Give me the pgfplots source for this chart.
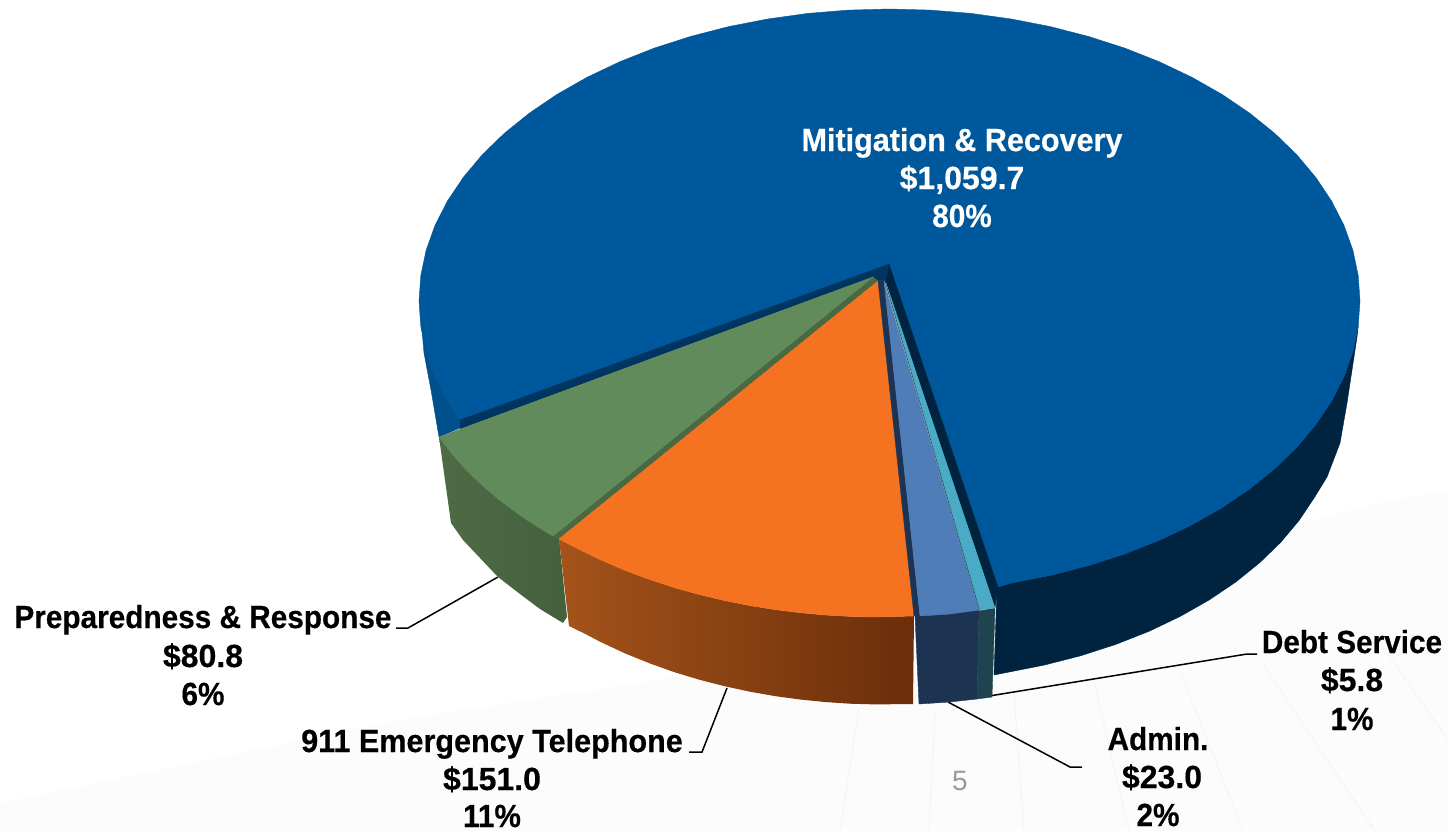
\documentclass[border=0pt]{standalone}
\usepackage{fontspec}
\setmainfont{Liberation Sans}
\newfontfamily\lblfont[FakeStretch=.93,BoldFeatures={FakeBold=0.4}]{Liberation Sans}
\newfontfamily\lblwide[FakeStretch=.955,BoldFeatures={FakeBold=0.4}]{Liberation Sans}
\newfontfamily\lblnum[FakeStretch=1.0,BoldFeatures={FakeBold=0.4}]{Liberation Sans}
\usepackage{pgfplots}
\pgfplotsset{compat=1.18}
\definecolor{mainblue}{HTML}{00589C}
\definecolor{mainside}{HTML}{00233F}
\definecolor{mainleft}{HTML}{00508E}
\definecolor{cutblue}{HTML}{003461}
\definecolor{greentop}{HTML}{628B5C}
\definecolor{greenband}{HTML}{4A6842}
\definecolor{orangetop}{HTML}{F57220}
\definecolor{admintop}{HTML}{4F7DB8}
\definecolor{adminside}{HTML}{1D3352}
\definecolor{tealtop}{HTML}{49ABC6}
\definecolor{tealside}{HTML}{1F444F}
\tikzset{
  pie/.style={draw=#1,fill=#1,line width=.4pt},
  lead/.style={black,line width=1.5pt},
  ray/.style={color=black!4,line width=1pt},
  lbl/.style={anchor=base,inner sep=0pt,font=\fontsize{32}{36}\selectfont\lblfont\bfseries},
  lblw/.style={lbl,font=\fontsize{32}{36}\selectfont\lblwide\bfseries},
  num/.style={lbl,font=\fontsize{32}{36}\selectfont\lblnum\bfseries}
}
\begin{document}
\begin{tikzpicture}
\begin{axis}[
    hide axis,
    scale only axis,
    width=1448pt, height=831pt,
    xmin=0, xmax=1448,
    ymin=0, ymax=831,
    y dir=reverse,
]
% faint background of the slide
\addplot[draw=none,fill=black!1] coordinates {(0,803) (400,720) (720,670) (1313,520) (1380,503) (1448,490) (1448,831) (0,831)} -- cycle;
\addplot[ray] coordinates {(859,707) (840,831)};
\addplot[ray] coordinates {(935,713) (929,831)};
\addplot[ray] coordinates {(1014,693) (1024,831)};
\addplot[ray] coordinates {(1092,673) (1129,831)};
\addplot[ray] coordinates {(1181,673) (1243,831)};
\addplot[ray] coordinates {(1260,660) (1375,831)};
\addplot[ray] coordinates {(1383,647) (1448,740)};

% leader lines
\addplot[lead] coordinates {(498,577) (408,628) (396,628)};
\addplot[lead] coordinates {(727,688) (702,752) (689,752)};
\addplot[lead] coordinates {(948,702) (1070,767) (1082,767)};
\addplot[lead] coordinates {(983,697) (1247,654) (1257,654)};

% mitigation & recovery
\addplot[pie=mainside] coordinates {
  (997,587) (1011.3,583) (1050.4,575.4) (1088.3,565.6) (1124.8,553.9) (1159.4,540.2) (1192,524.7)
  (1222.2,507.5) (1249.9,488.7) (1274.9,468.5) (1297,447) (1315.9,424.4) (1331.6,400.9) (1344,376.6)
  (1352.9,351.7) (1358.2,326.5) (1357,337) (1352,370) (1347,403) (1340,443) (1327,477)
  (1314.2,497.8) (1299.2,520.3) (1281,542) (1259.8,562.6) (1235.8,582) (1209.1,600) (1180,616.5)
  (1148.8,631.4) (1115.5,644.5) (1080.5,655.8) (1044.1,665.1) (994,675)} -- cycle;
\addplot[pie=mainleft] coordinates {(420,307) (424,353) (431,390) (439,437) (460,428) (470,420) (470,393) (450,300)} -- cycle;
\addplot[pie=mainblue] coordinates {
  (998,587) (1011.3,583) (1050.4,575.4) (1088.3,565.6) (1124.8,553.9) (1159.4,540.2) (1192,524.7)
  (1222.2,507.5) (1249.9,488.7) (1274.9,468.5) (1297,447) (1315.9,424.4) (1331.6,400.9) (1344,376.6)
  (1352.9,351.7) (1358.2,326.5) (1360,301) (1358.2,275.5) (1352.9,250.3) (1344,225.4) (1331.6,201.1)
  (1315.9,177.6) (1297,155) (1274.9,133.5) (1249.9,113.3) (1222.2,94.5) (1192,77.3) (1159.4,61.8)
  (1124.8,48.1) (1088.3,36.4) (1050.4,26.6) (1011.3,19) (971.2,13.4) (930.5,10.1) (889.5,9)
  (848.5,10.1) (807.8,13.4) (767.7,19) (728.6,26.6) (690.7,36.4) (654.2,48.1) (619.6,61.8) (587,77.3)
  (556.8,94.5) (529.1,113.3) (504.1,133.5) (482,155) (463.1,177.6) (447.4,201.1) (435,225.4)
  (426.1,250.3) (420.8,275.5) (419,301) (420.8,326.5) (426.1,351.7) (435,376.6) (447.4,400.9)
  (460,420) (889,264)} -- cycle;
\addplot[pie=cutblue] coordinates {(889,264) (460,420) (460,429) (873,277) (878,281) (884,280) (886,283)} -- cycle;
\addplot[pie=mainside] coordinates {(889,264) (998,587) (995,608) (886,283)} -- cycle;

% preparedness & response
\addplot[draw=none,left color=greenband!98!white,right color=greenband!92!black] coordinates {
  (439,437) (451,523) (463,540) (480,558) (498,577) (520,594) (540,609) (563,623) (567,617) (559,538)} -- cycle;
\addplot[pie=greenband] coordinates {(873,277) (553,536) (559,539) (878,281)} -- cycle;
\addplot[pie=greentop] coordinates {
  (873,277) (439,437) (450,451.5) (465,468.7) (482,485.3) (500,500.5) (520,515.4) (540,528.4) (553,536)} -- cycle;

% 911 emergency telephone
\addplot[draw=none,left color={rgb,255:red,165;green,83;blue,26},right color={rgb,255:red,106;green,46;blue,10}] coordinates {
  (559,539) (580,549.8) (600,559.5) (625,570.3) (650,579.6) (675,587.8) (700,594.7) (725,600.6)
  (750,605.6) (775,609.6) (800,612.7) (825,615) (850,616.4) (875,617) (914,616) (913,704)
  (875,704.4) (850,703.7) (825,702) (800,699.5) (775,696.1) (750,691.7) (725,686.3) (700,679.9)
  (675,672.4) (650,663.5) (625,653.4) (600,641.7) (585,633.8) (569,626)} -- cycle;
\addplot[pie=orangetop] coordinates {
  (878,281) (559,539) (580,549.8) (600,559.5) (625,570.3) (650,579.6) (675,587.8) (700,594.7) (725,600.6)
  (750,605.6) (775,609.6) (800,612.7) (825,615) (850,616.4) (875,617) (914,616)} -- cycle;

% admin
\addplot[pie=adminside] coordinates {(915,616) (919,704) (950,702) (977,699) (979,610)} -- cycle;
\addplot[pie=adminside] coordinates {(878,281) (914,616) (920,616) (884,280)} -- cycle;
\addplot[pie=admintop] coordinates {(884,281) (920,616) (950,614) (979,610)} -- cycle;

% debt service
\addplot[pie=tealside] coordinates {(979,611) (995,608) (992,697) (977,699)} -- cycle;
\addplot[pie=tealtop] coordinates {(886,283) (980,610) (995,608)} -- cycle;
\addplot[color=tealside,line width=.6pt] coordinates {(885,281) (979.5,610)};

% labels
\node[lblw,white] at (axis cs:962,151) {Mitigation \& Recovery};
\node[num,white] at (axis cs:962,189) {\$1,059.7};
\node[lbl,white] at (axis cs:962,227) {80\%};
\node[lbl] at (axis cs:203,628) {Preparedness \& Response};
\node[num] at (axis cs:203,667) {\$80.8};
\node[lbl] at (axis cs:203,705) {6\%};
\node[lblw] at (axis cs:492,752) {911 Emergency Telephone};
\node[num] at (axis cs:492,790) {\$151.0};
\node[lbl] at (axis cs:492,827) {11\%};
\node[lbl] at (axis cs:1158,750) {Admin.};
\node[num] at (axis cs:1162,788) {\$23.0};
\node[lbl] at (axis cs:1158,826) {2\%};
\node[lbl] at (axis cs:1352,653) {Debt Service};
\node[num] at (axis cs:1352,691) {\$5.8};
\node[lbl] at (axis cs:1352,730) {1\%};
\node[anchor=base,inner sep=0pt,text=black!40,font=\fontsize{28}{32}\selectfont] at (axis cs:960,790) {5};
\end{axis}
\path (0,0) rectangle (1448pt,831pt);
\end{tikzpicture}
\end{document}
